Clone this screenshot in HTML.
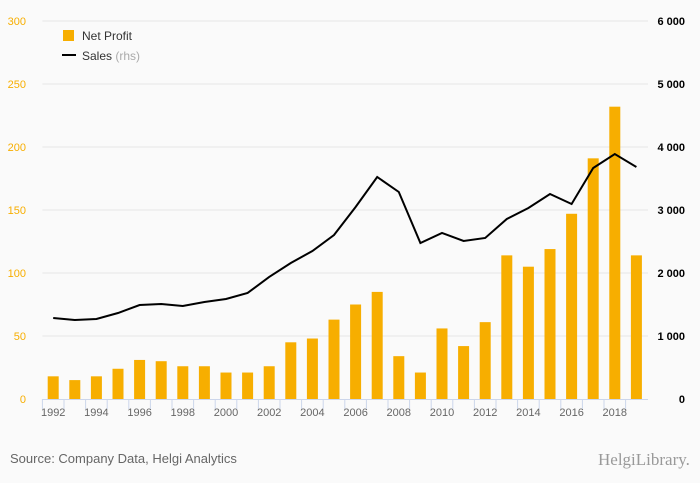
<!DOCTYPE html>
<html><head><meta charset="utf-8"><style>
body{margin:0;background:#fafafa;}
svg{display:block;font-family:"Liberation Sans",sans-serif;}
</style></head><body>
<svg width="700" height="483">
<rect width="700" height="483" fill="#fafafa"/>
<g id="grid"></g><g id="bars"></g><g id="line"></g><g id="axes"></g>
<g>
<rect x="63" y="30" width="11" height="11" fill="#f7ae00"/>
<text x="82" y="40" font-size="12" fill="#333">Net Profit</text>
<line x1="62" y1="55" x2="76" y2="55" stroke="#000" stroke-width="2"/>
<text x="82" y="60" font-size="12" fill="#333">Sales <tspan fill="#aaa">(rhs)</tspan></text>
</g>
<text x="10" y="463" font-size="13" fill="#666">Source: Company Data, Helgi Analytics</text>
<text x="598" y="465" font-size="17" fill="#999" font-family="Liberation Serif,serif">HelgiLibrary.</text>
</svg>
<script>
const years=[1992,1993,1994,1995,1996,1997,1998,1999,2000,2001,2002,2003,2004,2005,2006,2007,2008,2009,2010,2011,2012,2013,2014,2015,2016,2017,2018,2019];
const netProfit=[18,15,18,24,31,30,26,26,21,21,26,45,48,63,75,85,34,21,56,42,61,114,105,119,147,191,232,114];
const sales=[1286,1254,1270,1365,1492,1508,1476,1540,1587,1683,1937,2159,2349,2603,3048,3524,3286,2476,2635,2508,2556,2857,3032,3254,3095,3667,3889,3683];
const leftTicks=[0,50,100,150,200,250,300];
const rightTicks=[0,1000,2000,3000,4000,5000,6000];
const NS="http://www.w3.org/2000/svg";
const x0=42.4,band=21.6,yBase=399,yTop=21;
const xC=i=>x0+band*(i+0.5);
const yL=v=>yBase-(v/300)*(yBase-yTop);
const yR=v=>yBase-(v/6000)*(yBase-yTop);
function mk(tag,attrs,parent){const e=document.createElementNS(NS,tag);for(const k in attrs)e.setAttribute(k,attrs[k]);document.getElementById(parent).appendChild(e);return e;}
leftTicks.forEach((t,i)=>{
 if(t>0){const g=mk('line',{x1:x0,x2:648,y1:yL(t),y2:yL(t),stroke:'#e6e6e6'},'grid');
 
 }
 const a=mk('text',{x:26,y:yL(t)+4,'font-size':11,fill:'#f7ae00','text-anchor':'end'},'axes');a.textContent=t;
 
 
});
rightTicks.forEach(t=>{
 const a=mk('text',{x:685,y:yR(t)+4,'font-size':11,fill:'#000','text-anchor':'end','font-weight':'bold'},'axes');a.textContent=t===0?'0':(t/1000)+' 000';
 
 
});
const ax=mk('line',{x1:x0,x2:648,y1:yBase+0.5,y2:yBase+0.5,stroke:'#ccd6eb'},'axes');


years.forEach((y,i)=>{
 const tk=mk('line',{x1:x0+band*i,x2:x0+band*i,y1:yBase,y2:yBase+10,stroke:'#ccd6eb'},'axes');
 
 
 if(i%2===0){const l=mk('text',{x:xC(i),y:yBase+17,'font-size':11,fill:'#666','text-anchor':'middle'},'axes');l.textContent=y;
 
 }
 const b=mk('rect',{x:xC(i)-5.5,y:yL(netProfit[i]),width:11,height:yBase-yL(netProfit[i]),fill:'#f7ae00'},'bars');
 
 
});
const p=mk('polyline',{points:sales.map((v,i)=>xC(i)+','+yR(v)).join(' '),fill:'none',stroke:'#000','stroke-width':2},'line');


</script>
</body></html>
